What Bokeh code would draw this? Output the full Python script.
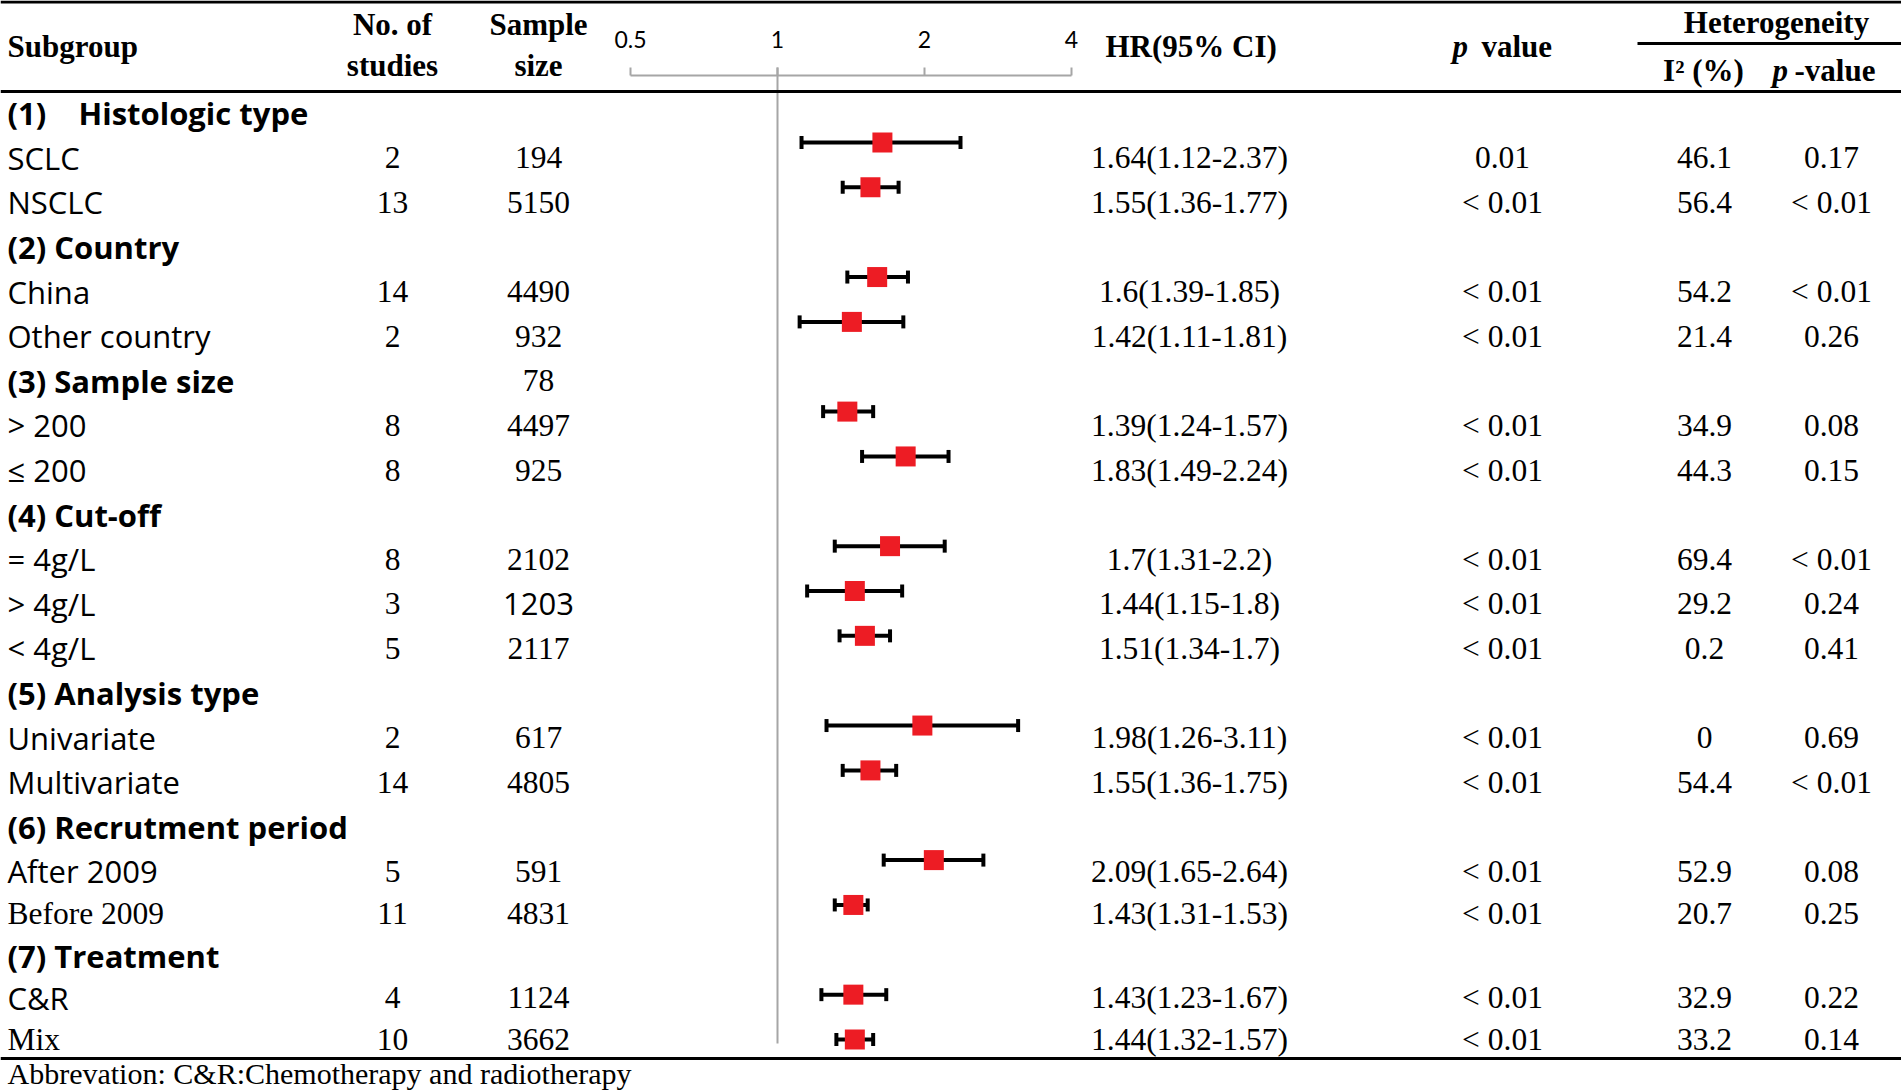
from bokeh.plotting import figure
from bokeh.models import Range1d, LogScale, ColumnDataSource, Span
from bokeh.core.properties import value
from bokeh.embed import file_html
from bokeh.resources import INLINE

# ---------------- data ----------------
labels = ["(1)\u00a0\u00a0\u00a0\u00a0Histologic type", "SCLC", "NSCLC",
          "(2) Country", "China", "Other country",
          "(3) Sample size", "> 200", "\u2264 200",
          "(4) Cut-off", "= 4g/L", "> 4g/L", "< 4g/L",
          "(5) Analysis type", "Univariate", "Multivariate",
          "(6) Recrutment period", "After 2009", "Before 2009",
          "(7) Treatment", "C&R", "Mix"]
n_studies = ["", "2", "13", "", "14", "2", "", "8", "8", "", "8", "3", "5",
             "", "2", "14", "", "5", "11", "", "4", "10"]
sample_size = ["", "194", "5150", "", "4490", "932", "78", "4497", "925", "",
               "2102", "1203", "2117", "", "617", "4805", "", "591", "4831", "",
               "1124", "3662"]

# rows that carry an estimate (index into labels)
est_rows = [1, 2, 4, 5, 7, 8, 10, 11, 12, 14, 15, 17, 18, 20, 21]
hr = [1.64, 1.55, 1.6, 1.42, 1.39, 1.83, 1.7, 1.44, 1.51, 1.98, 1.55, 2.09, 1.43, 1.43, 1.44]
ci_lo = [1.12, 1.36, 1.39, 1.11, 1.24, 1.49, 1.31, 1.15, 1.34, 1.26, 1.36, 1.65, 1.31, 1.23, 1.32]
ci_hi = [2.37, 1.77, 1.85, 1.81, 1.57, 2.24, 2.2, 1.8, 1.7, 3.11, 1.75, 2.64, 1.53, 1.67, 1.57]
hr_text = ["1.64(1.12-2.37)", "1.55(1.36-1.77)", "1.6(1.39-1.85)", "1.42(1.11-1.81)",
           "1.39(1.24-1.57)", "1.83(1.49-2.24)", "1.7(1.31-2.2)", "1.44(1.15-1.8)",
           "1.51(1.34-1.7)", "1.98(1.26-3.11)", "1.55(1.36-1.75)", "2.09(1.65-2.64)",
           "1.43(1.31-1.53)", "1.43(1.23-1.67)", "1.44(1.32-1.57)"]
p_value = ["0.01"] + ["< 0.01"] * 14
i2 = ["46.1", "56.4", "54.2", "21.4", "34.9", "44.3", "69.4", "29.2", "0.2", "0",
      "54.4", "52.9", "20.7", "32.9", "33.2"]
p_het = ["0.17", "< 0.01", "< 0.01", "0.26", "0.08", "0.15", "< 0.01", "0.24", "0.41",
         "0.69", "< 0.01", "0.08", "0.25", "0.22", "0.14"]

ticks = [0.5, 1, 2, 4]
tick_labels = ["0.5", "1", "2", "4"]

# ---------------- styles ----------------
label_style = ["hb", "s", "s", "hb", "s", "s", "hb", "s", "s", "hb", "s", "s", "s",
               "hb", "s", "s", "hb", "s", "t", "hb", "s", "t"]
size_style = ["t"] * 22
size_style[11] = "s"

SANS = "Open Sans"
SERIF = "Liberation Serif"
FS_SANS = "31px"
FS_SERIF = "31.5px"

W, H = 1901, 1091                  # figure size == picture coordinates
ROWS_A = (112.7, 44.6)             # text rows 0..17 (offset, step)
ROWS_B = (157.0, 42.0)             # text rows 18..21 (tighter spacing)
SPLIT = 18
F0, F_STEP = 97.15, 44.85          # forest rows
X_ONE, PX_DBL = 777, 147           # HR = 1 position, pixels per doubling

p = figure(width=W, height=H, output_backend="svg", toolbar_location=None,
           x_range=Range1d(0, W), y_range=Range1d(H, 0),
           x_axis_location=None, y_axis_location=None, min_border=0)
p.grid.grid_line_color = None
p.outline_line_color = None
p.background_fill_color = "white"
p.border_fill_color = "white"

def row_range(off, step):
    return Range1d(start=(H - off) / step, end=(0 - off) / step)

p.extra_y_ranges = {
    "rows_a": row_range(*ROWS_A),
    "rows_b": row_range(*ROWS_B),
    "forest": row_range(F0, F_STEP),
}
p.extra_x_ranges = {"hr": Range1d(start=2 ** ((0 - X_ONE) / PX_DBL),
                                  end=2 ** ((W - X_ONE) / PX_DBL))}
p.extra_x_scales = {"hr": LogScale()}

# ---------------- table rules ----------------
for loc in (1.5, 91, 1058):
    p.add_layout(Span(location=loc, dimension="width", line_color="black", line_width=3))
p.segment(x0=[1637], y0=[43], x1=[W], y1=[43], line_color="black", line_width=3)

# ---------------- axis ----------------
AX_COL = "#a6a6a6"
p.segment(x0=[ticks[0]], y0=[75], x1=[ticks[-1]], y1=[75], x_range_name="hr",
          line_color=AX_COL, line_width=2)
p.segment(x0=ticks, y0=[75] * 4, x1=ticks, y1=[67] * 4, x_range_name="hr",
          line_color=AX_COL, line_width=2)
p.segment(x0=[1], y0=[67], x1=[1], y1=[1043], x_range_name="hr",
          line_color=AX_COL, line_width=2)
p.text(x=ticks, y=[39] * 4, text=tick_labels, x_range_name="hr",
       text_font=value("Lato"), text_font_size="23px", text_align="center",
       text_baseline="middle", text_color="black")

# ---------------- header ----------------
def htext(x, y, t, align="center", style="bold"):
    p.text(x=[x], y=[y], text=[t], text_font=value(SERIF), text_font_size="31px",
           text_font_style=style, text_align=align, text_baseline="middle",
           text_color="black")

htext(7, 46, "Subgroup", "left")
htext(392, 24, "No. of")
htext(392, 65, "studies")
htext(538, 24, "Sample")
htext(538, 65, "size")
htext(1105, 46, "HR(95% CI)", "left")
htext(1452, 46, "p", "left", "bold italic")
htext(1481, 46, "value", "left")
htext(1776, 22, "Heterogeneity")
htext(1703, 70, "I\u00b2 (%)")
htext(1772, 70, "p", "left", "bold italic")
htext(1794, 70, "-value", "left")

# ---------------- row texts ----------------
def row_text(x, rows, texts, font, size, style="normal", align="center"):
    for name, keep in (("rows_a", lambda r: r < SPLIT), ("rows_b", lambda r: r >= SPLIT)):
        sel = [k for k, r in enumerate(rows) if keep(r)]
        if not sel:
            continue
        p.text(x=[x] * len(sel), y=[rows[k] for k in sel], text=[texts[k] for k in sel],
               y_range_name=name, text_font=value(font), text_font_size=size,
               text_font_style=style, text_align=align, text_baseline="middle",
               text_color="black")

idx = list(range(len(labels)))
style_map = {"hb": (SANS, FS_SANS, "bold"), "s": (SANS, FS_SANS, "normal"),
             "t": (SERIF, FS_SERIF, "normal")}

for key, (font, fsize, fstyle) in style_map.items():
    sel = [i for i in idx if label_style[i] == key]
    row_text(7, sel, [labels[i] for i in sel], font, fsize, fstyle, "left")

row_text(392, idx, n_studies, SERIF, FS_SERIF)
for key in ("t", "s"):
    sel = [i for i in idx if size_style[i] == key]
    font, fsize, _ = style_map[key]
    row_text(538, sel, [sample_size[i] for i in sel], font, fsize)

for col_x, col in ((1189, hr_text), (1502, p_value), (1704, i2), (1831, p_het)):
    row_text(col_x, est_rows, col, SERIF, FS_SERIF)

p.text(x=[7], y=[1073], text=["Abbrevation: C&R:Chemotherapy and radiotherapy"],
       text_font=value(SERIF), text_font_size="30px", text_align="left",
       text_baseline="middle", text_color="black")

# ---------------- forest ----------------
fsrc = ColumnDataSource(dict(row=est_rows, hr=hr, lo=ci_lo, hi=ci_hi))
p.segment(x0="lo", y0="row", x1="hi", y1="row", source=fsrc, x_range_name="hr",
          y_range_name="forest", line_color="black", line_width=4)
for col in ("lo", "hi"):
    p.rect(x=col, y="row", width=4, height=13, width_units="screen", height_units="screen",
           source=fsrc, x_range_name="hr", y_range_name="forest",
           fill_color="black", line_color=None)
p.rect(x="hr", y="row", width=20, height=20, width_units="screen", height_units="screen",
       source=fsrc, x_range_name="hr", y_range_name="forest",
       fill_color="#ED1C24", line_color=None)

open("out.html", "w").write(file_html(p, INLINE))
